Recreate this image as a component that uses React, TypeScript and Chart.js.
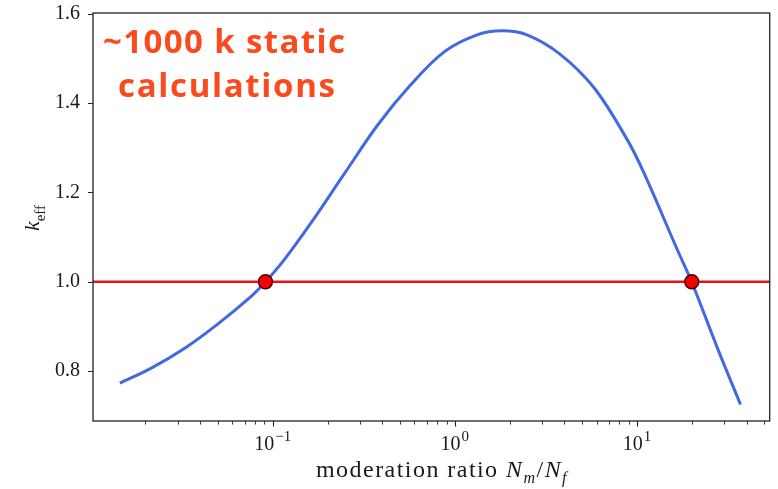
import React, { useEffect, useRef } from "react";
import { Chart, registerables } from "chart.js";

Chart.register(...registerables);

// moderation ratio N_m/N_f (log axis)
const ratioValues = [
  0.01447, 0.0214, 0.03285, 0.04983, 0.07555, 0.09131, 0.11606, 0.16111, 0.24738, 0.37519,
  0.56894, 0.87382, 1.3249, 1.816, 2.4899, 3.7757, 5.7997, 8.7947, 10.896, 16.527,
  19.965, 28.07, 37.05,
];
// k_eff
const keffValues = [
  0.773, 0.806, 0.851, 0.905, 0.966, 1.0, 1.05, 1.13, 1.242, 1.35,
  1.44, 1.515, 1.553, 1.562, 1.553, 1.51, 1.435, 1.32, 1.245, 1.075,
  1.0, 0.845, 0.725,
];
const criticalRatios = [0.0912, 20.0];
const criticalK = 1.0;

const yTicks = [0.8, 1.0, 1.2, 1.4, 1.6];
const xMajorTicks = [0.1, 1, 10];
const xTickExponents = ["\u22121", "0", "1"];
const xMinorTicks = [
  0.02, 0.03, 0.04, 0.05, 0.06, 0.07, 0.08, 0.09,
  0.2, 0.3, 0.4, 0.5, 0.6, 0.7, 0.8, 0.9,
  2, 3, 4, 5, 6, 7, 8, 9,
  20, 30, 40, 50,
];
const X_MIN = 0.0103;
const X_MAX = 53.6;
const Y_MIN = 0.688;
const Y_MAX = 1.602;

const annotationLines = ["~1000 k static", "calculations"];
const xTitleParts = [
  { t: "moderation ratio ", it: false, sub: false },
  { t: "N", it: true, sub: false },
  { t: "m", it: true, sub: true },
  { t: "/", it: false, sub: false },
  { t: "N", it: true, sub: false },
  { t: "f", it: true, sub: true },
];
const yTitleParts = [
  { t: "k", it: true, sub: false },
  { t: "eff", it: false, sub: true },
];

const SERIF = "'Liberation Serif', 'DejaVu Serif', serif";
const TEXT_COLOR = "#1a1a1a";
const AXIS_COLOR = "#222222";

type Part = { t: string; it: boolean; sub: boolean };

function drawRich(
  ctx: CanvasRenderingContext2D,
  parts: Part[],
  cx: number,
  baseline: number,
  size: number,
  subSize: number,
  targetWidth?: number
) {
  const fontFor = (p: Part) => `${p.it ? "italic " : ""}${p.sub ? subSize : size}px ${SERIF}`;
  const c: any = ctx;
  c.letterSpacing = "0px";
  let total = 0;
  let chars = 0;
  for (const p of parts) {
    ctx.font = fontFor(p);
    total += ctx.measureText(p.t).width;
    chars += p.t.length;
  }
  let sp = 0;
  if (targetWidth) sp = Math.max(-1, (targetWidth - total) / chars);
  c.letterSpacing = `${sp}px`;
  let x = cx - (total + sp * chars) / 2;
  ctx.textAlign = "left";
  ctx.textBaseline = "alphabetic";
  for (const p of parts) {
    ctx.font = fontFor(p);
    ctx.fillText(p.t, x, baseline + (p.sub ? size * 0.25 : 0));
    x += ctx.measureText(p.t).width;
  }
  c.letterSpacing = "0px";
}

function fitText(ctx: CanvasRenderingContext2D, text: string, x: number, y: number, target: number) {
  const c: any = ctx;
  c.letterSpacing = "0px";
  const w = ctx.measureText(text).width;
  const sp = (target - w) / Math.max(1, text.length - 1);
  c.letterSpacing = `${sp}px`;
  ctx.fillText(text, x, y);
  c.letterSpacing = "0px";
}

const decorPlugin = {
  id: "decor",
  afterDraw(chart: any) {
    const { ctx, chartArea } = chart;
    const xs = chart.scales.x;
    const ys = chart.scales.y;
    ctx.save();
    // frame
    ctx.strokeStyle = AXIS_COLOR;
    ctx.lineWidth = 1.3;
    ctx.strokeRect(chartArea.left, chartArea.top, chartArea.right - chartArea.left, chartArea.bottom - chartArea.top);
    // major ticks
    ctx.lineWidth = 1.1;
    ctx.beginPath();
    for (const v of yTicks) {
      const y = Math.round(ys.getPixelForValue(v)) + 0.5;
      ctx.moveTo(chartArea.left - 5, y);
      ctx.lineTo(chartArea.left, y);
    }
    for (const v of xMajorTicks) {
      const x = Math.round(xs.getPixelForValue(v)) + 0.5;
      ctx.moveTo(x, chartArea.bottom);
      ctx.lineTo(x, chartArea.bottom + 5.5);
    }
    ctx.stroke();
    // minor ticks
    ctx.lineWidth = 0.9;
    ctx.beginPath();
    for (const v of xMinorTicks) {
      if (v < X_MIN || v > X_MAX) continue;
      const x = Math.round(xs.getPixelForValue(v)) + 0.5;
      ctx.moveTo(x, chartArea.bottom);
      ctx.lineTo(x, chartArea.bottom + 3.5);
    }
    ctx.stroke();

    // x tick labels 10^n
    ctx.fillStyle = TEXT_COLOR;
    ctx.textAlign = "left";
    ctx.textBaseline = "alphabetic";
    xMajorTicks.forEach((v, i) => {
      const px = xs.getPixelForValue(v);
      ctx.font = `20px ${SERIF}`;
      const wb = ctx.measureText("10").width;
      ctx.font = `15px ${SERIF}`;
      const we = ctx.measureText(xTickExponents[i]).width;
      const start = px - (wb + we + 1) / 2;
      ctx.font = `20px ${SERIF}`;
      ctx.fillText("10", start, 450);
      ctx.font = `15px ${SERIF}`;
      ctx.fillText(xTickExponents[i], start + wb + 1, 441);
    });

    // axis titles
    drawRich(ctx, xTitleParts, 442, 477, 24, 16, 252);
    ctx.save();
    ctx.translate(39, 218);
    ctx.rotate(-Math.PI / 2);
    drawRich(ctx, yTitleParts, 0, 0, 22, 15);
    ctx.restore();

    // annotation
    ctx.fillStyle = "#fb4a1e";
    ctx.font = "bold 33px 'Open Sans', Lato, 'Noto Sans', sans-serif";
    ctx.textAlign = "left";
    ctx.textBaseline = "alphabetic";
    fitText(ctx, annotationLines[0], 103, 53, 242);
    fitText(ctx, annotationLines[1], 118, 97, 217);
    ctx.restore();
  },
};

export default function App() {
  const ref = useRef<HTMLCanvasElement>(null);
  useEffect(() => {
    document.body.style.margin = "0";
    const curve = ratioValues.map((x, i) => ({ x, y: keffValues[i] }));
    const markers = criticalRatios.map((x) => ({ x, y: criticalK }));
    const refLine = [
      { x: X_MIN, y: criticalK },
      { x: X_MAX, y: criticalK },
    ];
    const zeroPad = (s: any) => {
      s.paddingTop = 0;
      s.paddingBottom = 0;
      s.paddingLeft = 0;
      s.paddingRight = 0;
    };
    const chart = new Chart(ref.current!, {
      type: "line",
      data: {
        datasets: [
          {
            data: markers,
            showLine: false,
            pointRadius: 7,
            pointBackgroundColor: "#f40000",
            pointBorderColor: "#3a0000",
            pointBorderWidth: 1.3,
            order: 0,
          },
          {
            data: curve,
            borderColor: "#4169e1",
            borderWidth: 3,
            pointRadius: 0,
            tension: 0.35,
            order: 1,
          },
          {
            data: refLine,
            borderColor: "#e81212",
            borderWidth: 2.5,
            pointRadius: 0,
            order: 2,
          },
        ],
      } as any,
      options: {
        animation: false,
        responsive: false,
        events: [],
        layout: { padding: { top: 13, right: 4.5, left: 0, bottom: 0 } },
        plugins: { legend: { display: false }, tooltip: { enabled: false } },
        scales: {
          x: {
            type: "logarithmic",
            min: X_MIN,
            max: X_MAX,
            grid: { display: false },
            border: { display: false },
            afterBuildTicks: (s: any) => {
              s.ticks = xMajorTicks.map((v) => ({ value: v }));
            },
            afterFit: (s: any) => {
              s.height = 68;
              zeroPad(s);
            },
            ticks: {
              autoSkip: false,
              maxRotation: 0,
              color: "rgba(0,0,0,0)",
              font: { family: SERIF, size: 20 },
              callback: () => "",
            },
          },
          y: {
            type: "linear",
            min: Y_MIN,
            max: Y_MAX,
            grid: { drawOnChartArea: false, drawTicks: true, tickLength: 5, tickColor: "rgba(0,0,0,0)", color: "rgba(0,0,0,0)" },
            border: { display: false },
            afterBuildTicks: (s: any) => {
              s.ticks = yTicks.map((v) => ({ value: v }));
            },
            afterFit: (s: any) => {
              s.width = 93;
              zeroPad(s);
            },
            ticks: {
              padding: 8,
              color: TEXT_COLOR,
              font: { family: SERIF, size: 20 },
              callback: (v: any) => Number(v).toFixed(1),
            },
          },
        },
      } as any,
      plugins: [decorPlugin],
    });
    return () => chart.destroy();
  }, []);
  return (
    <div style={{ width: 778, height: 489, position: "relative" }}>
      <canvas ref={ref} width={778} height={489} style={{ width: 778, height: 489, display: "block" }} />
    </div>
  );
}
